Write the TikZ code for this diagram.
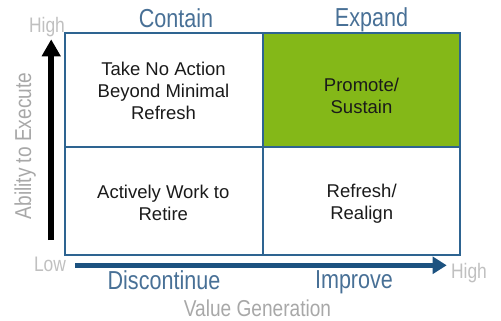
\documentclass[tikz,border=0pt]{standalone}
\usepackage{fontspec}
\setmainfont{Liberation Sans}
\newfontfamily\narrowf[FakeStretch=0.83]{Liberation Sans}
\usetikzlibrary{arrows.meta}
\definecolor{gridblue}{RGB}{46,100,145}
\definecolor{arrowblue}{RGB}{28,82,128}
\definecolor{headblue}{RGB}{72,112,150}
\definecolor{lightgray}{RGB}{192,192,192}
\definecolor{axisgray}{RGB}{168,168,168}
\definecolor{cellgreen}{RGB}{132,184,24}
\definecolor{celltext}{RGB}{26,26,26}
\tikzset{
  celltxt/.style={align=center, inner sep=0pt, text=celltext, font=\fontsize{18.5}{21.7}\selectfont},
  headtxt/.style={anchor=base, inner sep=0pt, text=headblue, font=\narrowf\fontsize{26}{30}\selectfont},
  endtxt/.style={anchor=base, inner sep=0pt, text=lightgray, font=\narrowf\fontsize{21}{24}\selectfont},
  axistxt/.style={anchor=base, inner sep=0pt, text=axisgray, font=\narrowf\fontsize{23}{27}\selectfont},
  gridline/.style={draw=gridblue, line width=2pt},
}
\begin{document}
\begin{tikzpicture}[x=1pt,y=-1pt]
\useasboundingbox (0,0) rectangle (501,321);
% quadrants
\fill[cellgreen] (262.5,32.7) rectangle (460,146.5);
\draw[gridline] (65,32.7) rectangle (460,255);
\draw[gridline] (262.5,32.7) -- (262.5,255);
\draw[gridline] (65,146.5) -- (460,146.5);
% cell texts
\node[celltxt] (tl) at (163.5,90.7) {Take No Action\\Beyond Minimal\\Refresh};
\node[celltxt] (tr) at (361.5,95.8) {Promote/\\Sustain};
\node[celltxt] (bl) at (163.3,202.6) {Actively Work to\\Retire};
\node[celltxt] (br) at (361.7,203.6) {Refresh/\\Realign};
% column / row headings
\node[headtxt] (contain) at (176,27.5) {Contain};
\node[headtxt] (expand) at (371.5,27) {Expand};
\node[headtxt] (discont) at (164,289) {Discontinue};
\node[headtxt] (improve) at (354,288.3) {Improve};
% axis ends
\node[endtxt] (yhigh) at (47,33) {High};
\node[endtxt] (ylow) at (50,271.7) {Low};
\node[endtxt] (xhigh) at (469,278.3) {High};
% axis titles
\node[axistxt] (xtitle) at (257.5,316.5) {Value Generation};
\node[axistxt, rotate=90] (ytitle) at (31,146) {Ability to Execute};
% axes
\coordinate (ystart) at (51.2,240);
\coordinate (yend) at (51.2,39.3);
\coordinate (xstart) at (75,265.3);
\coordinate (xend) at (446.7,265.3);
\draw[line width=5.5pt, black, -{Triangle[width=18pt,length=17pt]}] (ystart) -- (yend);
\draw[line width=4.5pt, arrowblue, -{Triangle[width=16.6pt,length=14pt]}] (xstart) -- (xend);
\end{tikzpicture}
\end{document}
